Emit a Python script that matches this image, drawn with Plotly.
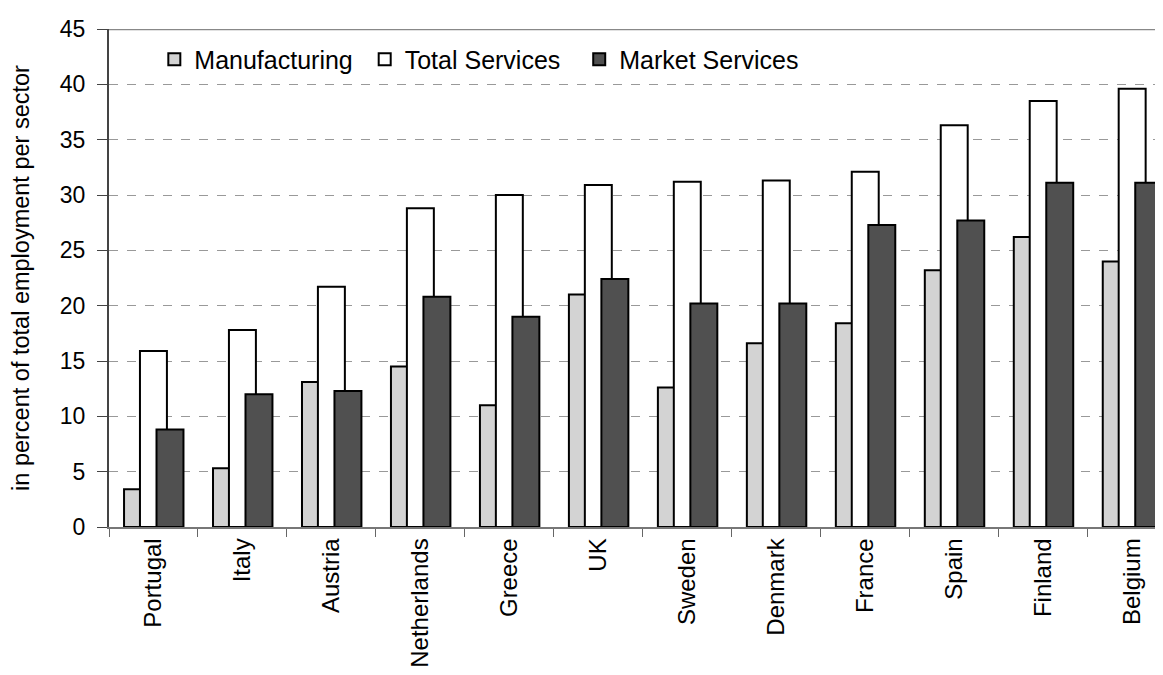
import plotly.graph_objects as go

# --- data ---
countries = ["Portugal", "Italy", "Austria", "Netherlands", "Greece", "UK",
             "Sweden", "Denmark", "France", "Spain", "Finland", "Belgium"]
manufacturing = [3.4, 5.3, 13.1, 14.5, 11.0, 21.0, 12.6, 16.6, 18.4, 23.2, 26.2, 24.0]
total_services = [15.9, 17.8, 21.7, 28.8, 30.0, 30.9, 31.2, 31.3, 32.1, 36.3, 38.5, 39.6]
market_services = [8.8, 12.0, 12.3, 20.8, 19.0, 22.4, 20.2, 20.2, 27.3, 27.7, 31.1, 31.1]

FONT = "Liberation Sans, Arial, sans-serif"
BAR_W = 0.303
NBSP = "\u00a0"

fig = go.Figure()

# trailing spaces widen the legend entries a bit, like the wide-set original text
series = [
    ("Manufacturing" + NBSP, manufacturing, "#d3d3d3", -0.331),
    ("Total Services" + NBSP * 2, total_services, "#ffffff", -0.152),
    ("Market Services", market_services, "#505050", 0.034),
]
for name, vals, color, off in series:
    fig.add_trace(go.Bar(
        x=countries, y=vals, name=name,
        marker=dict(color=color, line=dict(color="black", width=2)),
        width=BAR_W, offset=off,
    ))

# top border of plot area
fig.add_shape(type="line", xref="paper", yref="y", x0=0, x1=1, y0=45, y1=45,
              line=dict(color="#888888", width=2.5))

# page body has an 8px margin, so the figure is sized to fit inside it
fig.update_layout(
    width=1155, height=667,
    barmode="overlay",
    plot_bgcolor="white", paper_bgcolor="white",
    font=dict(family=FONT, size=23, color="black"),
    margin=dict(l=101, r=0, t=21, b=148),
    showlegend=True,
    legend=dict(orientation="h", x=0.043, y=0.985, xanchor="left", yanchor="top",
                font=dict(size=25), bgcolor="rgba(0,0,0,0)",
                itemwidth=30, tracegroupgap=0),
    xaxis=dict(
        range=[-0.5, 11.346], tickangle=-90,
        ticks="outside", tickson="boundaries", ticklen=8, tickcolor="#666666",
        showline=True, linecolor="#777777", linewidth=1.5,
        tickfont=dict(size=24), showgrid=False,
    ),
    yaxis=dict(
        range=[0, 45], dtick=5, ticks="outside", ticklen=10, tickcolor="#444444",
        showline=True, linecolor="#444444", linewidth=2,
        showgrid=True, gridcolor="#999999", griddash="dash", gridwidth=1,
        zeroline=False, tickfont=dict(size=23), ticklabelstandoff=7,
        title=dict(text="in percent of total employment per sector",
                   font=dict(size=23.5), standoff=26),
    ),
)

fig.write_html("out.html")
